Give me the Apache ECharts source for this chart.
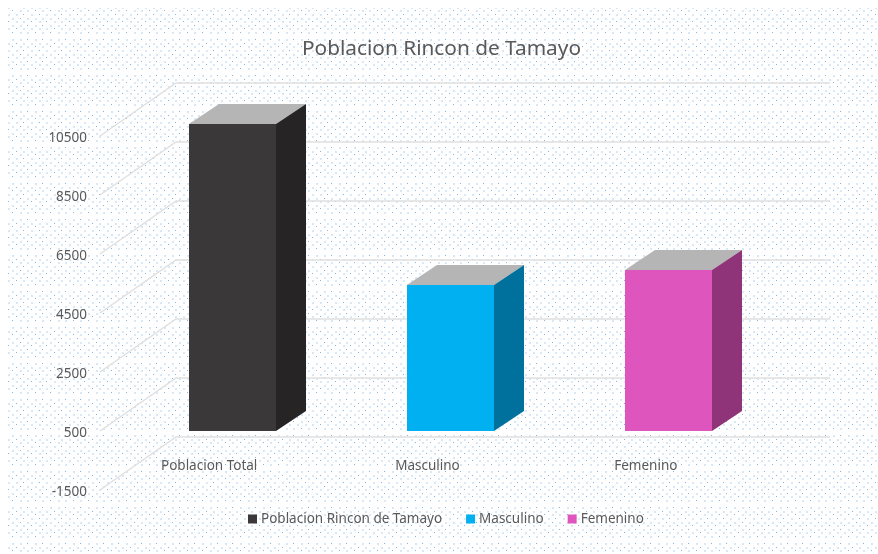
<!DOCTYPE html>
<html>
<head>
<meta charset="utf-8">
<style>html,body{margin:0;padding:0;background:#fff}#c{width:878px;height:554px}</style>
<script src="https://cdn.jsdelivr.net/npm/echarts@6/dist/echarts.min.js"></script>
</head>
<body>
<div id="c"></div>
<script>
const chartTitle = 'Poblacion Rincon de Tamayo';
const categories = ['Poblacion Total', 'Masculino', 'Femenino'];
const seriesNames = ['Poblacion Rincon de Tamayo', 'Masculino', 'Femenino'];
const values = [10900, 5450, 5960];
const yTicks = [-1500, 500, 2500, 4500, 6500, 8500, 10500];
const baseValue = 500;
const frontColors = ['#3a3838', '#00b0f0', '#de55bd'];
const sideColors = ['#262424', '#00719c', '#90347a'];
const topColor = '#b5b5b5';
const textColor = '#595959';
const font = '"Noto Sans", sans-serif';

function dotTile() {
  const c = document.createElement('canvas');
  c.width = 38; c.height = 36;
  const g = c.getContext('2d');
  for (let r = 0; r < 10; r++) {
    const y = 3.2 + r * 3.6;
    const off = r % 2 ? 0.6 : 4.4;
    for (let i = 0; i < 5; i++) {
      const x = off + i * 7.6;
      if ((i + r) % 3 === 0) {
        g.fillStyle = '#7fb6e4';
        g.fillRect(Math.round(x), Math.round(y), 1, 1);
      } else {
        g.fillStyle = '#d9e8f6';
        g.fillRect(Math.round(x), Math.round(y), 2, 2);
      }
    }
  }
  return c;
}

const chart = echarts.init(document.getElementById('c'), null, {renderer: 'canvas'});
const wallDX = 76, wallDY = -53, wallRight = 830;
const barShift = 23, barWidth = 87, depthX = 30, depthY = -20;

function gridLineItem(params, api) {
  const p = api.coord([0, api.value(0)]);
  const x0 = params.coordSys.x;
  const y0 = p[1];
  return {
    type: 'polyline',
    shape: {points: [[x0, y0], [x0 + wallDX, y0 + wallDY], [wallRight, y0 + wallDY]]},
    style: {stroke: '#e0e0e0', lineWidth: 1.5, fill: null}
  };
}

function barItem(i) {
  return function (params, api) {
    const top = api.coord([api.value(0), api.value(1)]);
    const base = api.coord([api.value(0), baseValue]);
    const l = Math.round(top[0] + barShift - barWidth / 2), r = l + barWidth;
    const t = Math.round(top[1]), b = Math.round(base[1]);
    return {
      type: 'group',
      children: [
        {type: 'polygon', shape: {points: [[l, t], [r, t], [r + depthX, t + depthY], [l + depthX, t + depthY]]}, style: {fill: topColor}},
        {type: 'polygon', shape: {points: [[r, t], [r + depthX, t + depthY], [r + depthX, b + depthY], [r, b]]}, style: {fill: sideColors[i]}},
        {type: 'rect', shape: {x: l, y: t, width: barWidth, height: b - t}, style: {fill: frontColors[i]}}
      ]
    };
  };
}

chart.setOption({
  animation: false,
  backgroundColor: '#ffffff',
  graphic: [{
    type: 'rect', silent: true, z: -10,
    shape: {x: 7, y: 8, width: 871, height: 546},
    style: {fill: {image: dotTile(), repeat: 'repeat'}}
  }],
  title: {
    text: chartTitle, left: 436.5, top: 34, textAlign: 'center',
    textStyle: {color: textColor, fontFamily: font, fontSize: 20.8, fontWeight: 'normal'}
  },
  legend: {
    data: seriesNames, left: 243, top: 507, icon: 'rect', itemWidth: 9, itemHeight: 9, itemGap: 24,
    selectedMode: false,
    textStyle: {color: textColor, fontFamily: font, fontSize: 13.5, padding: [0, 0, 0, -1]}
  },
  grid: {left: 100, top: 136, width: 655, height: 354},
  xAxis: {
    type: 'category', data: categories,
    axisLine: {show: false}, axisTick: {show: false}, splitLine: {show: false},
    axisLabel: {margin: -31, color: textColor, fontFamily: font, fontSize: 13.5}
  },
  yAxis: {
    type: 'value', min: -1500, max: 10500,
    axisLine: {show: false}, axisTick: {show: false}, splitLine: {show: false},
    axisLabel: {
      customValues: yTicks, formatter: v => '{v|' + v + '}', margin: 13,
      color: textColor, fontFamily: font, fontSize: 13.5,
      rich: {v: {color: textColor, fontFamily: font, fontSize: 13.5, padding: [4, 0, 0, 0]}}
    }
  },
  series: [
    {type: 'custom', name: '_grid', silent: true, z: 1, coordinateSystem: 'cartesian2d',
     encode: {y: 0}, data: yTicks.map(v => [v]), renderItem: gridLineItem}
  ].concat(seriesNames.map((n, i) => ({
    type: 'custom', name: n, silent: true, z: 2, coordinateSystem: 'cartesian2d',
    itemStyle: {color: frontColors[i]},
    encode: {x: 0, y: 1}, data: [[i, values[i]]], renderItem: barItem(i)
  })))
});
</script>
</body>
</html>
